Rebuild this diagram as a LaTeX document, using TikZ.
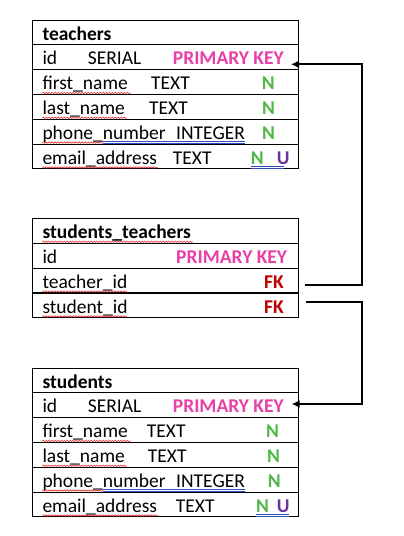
\documentclass[tikz,border=0pt]{standalone}
\usepackage{fontspec}
\setmainfont{Carlito}
\usetikzlibrary{arrows.meta,decorations.pathmorphing}
\definecolor{pk}{HTML}{E83FA8}
\definecolor{nn}{HTML}{50B848}
\definecolor{uu}{HTML}{7030A0}
\definecolor{fk}{HTML}{C00000}
\definecolor{spell}{HTML}{E03030}
\definecolor{gram}{HTML}{2F4FBF}
\tikzset{
  rowbox/.style={draw, line width=0.9pt, minimum width=265.6pt, minimum height=24.8pt, inner sep=0pt, outer sep=0pt, anchor=north west},
  txt/.style={anchor=base west, inner sep=0pt, font=\fontsize{19.5}{23}\selectfont},
  txtr/.style={txt, anchor=base east},
  hdr/.style={txt, font=\fontsize{19.5}{23}\selectfont\bfseries},
  pkey/.style={txtr, text=pk, font=\fontsize{19.5}{23}\selectfont\bfseries},
  nkey/.style={txt, text=nn, font=\fontsize{19.5}{23}\selectfont\bfseries},
  ukey/.style={txt, text=uu, font=\fontsize{19.5}{23}\selectfont\bfseries},
  fkey/.style={txtr, text=fk, font=\fontsize{19.5}{23}\selectfont\bfseries},
  conn/.style={line width=2pt, -{Latex[length=8pt,width=8pt]}},
  connplain/.style={line width=2pt},
  wavy/.style={spell, line width=0.6pt, decorate, decoration={snake, amplitude=0.7pt, segment length=3pt}},
  dbl/.style={gram, line width=0.6pt},
}
\begin{document}
\begin{tikzpicture}[x=1pt,y=-1pt]
\useasboundingbox (0,0) rectangle (404,536);
\fill[white] (0,0) rectangle (404,536);

% ---------- teachers ----------
\node[rowbox] (t0) at (32.7,20) {};
\node[rowbox] (t1) at (32.7,44.8) {};
\node[rowbox] (t2) at (32.7,69.6) {};
\node[rowbox] (t3) at (32.7,94.4) {};
\node[rowbox] (t4) at (32.7,119.2) {};
\node[rowbox] (t5) at (32.7,144) {};
\node[hdr] (t0a) at (42.3,40) {teachers};
\node[txt] (t1a) at (42.3,64.8) {id};
\node[txt] (t1b) at (87.7,64.8) {SERIAL};
\node[pkey] (t1c) at (284,64.8) {PRIMARY KEY};
\node[txt] (t2a) at (42.3,89.6) {first\_name};
\node[txt] (t2b) at (151,89.6) {TEXT};
\node[nkey] (t2c) at (261.7,89.6) {N};
\node[txt] (t3a) at (42.3,114.4) {last\_name};
\node[txt] (t3b) at (149,114.4) {TEXT};
\node[nkey] (t3c) at (262,114.4) {N};
\node[txt] (t4a) at (42.3,139.2) {phone\_number};
\node[txt] (t4b) at (176,139.2) {INTEGER};
\node[nkey] (t4c) at (262,139.2) {N};
\node[txt] (t5a) at (42.3,164) {email\_address};
\node[txt] (t5b) at (172.7,164) {TEXT};
\node[nkey] (t5c) at (250.7,164) {N};
\node[ukey] (t5d) at (276.7,164) {U};
\draw[wavy] (42.3,93) -- (130.7,93);
\draw[wavy] (42.3,117.8) -- (126.7,117.8);
\draw[wavy] (42.3,142.6) -- (103,142.6);
\draw[dbl] (103,141.6) -- (245,141.6) (103,143.6) -- (245,143.6);
\draw[wavy] (42.3,167.4) -- (158,167.4);
\draw[dbl] (250.7,166.4) -- (284,166.4) (250.7,168.4) -- (284,168.4);

% ---------- students_teachers ----------
\node[rowbox] (m0) at (32.7,218.3) {};
\node[rowbox] (m1) at (32.7,243.2) {};
\node[rowbox] (m2) at (32.7,268.1) {};
\node[rowbox] (m3) at (32.7,293) {};
\node[hdr] (m0a) at (42.3,238.3) {students\_teachers};
\node[txt] (m1a) at (42.3,263.2) {id};
\node[pkey] (m1b) at (287.3,263.2) {PRIMARY KEY};
\node[txt] (m2a) at (42.3,288.1) {teacher\_id};
\node[fkey] (m2b) at (284,288.1) {FK};
\node[txt] (m3a) at (42.3,313) {student\_id};
\node[fkey] (m3b) at (284,313) {FK};
\draw[wavy] (42.3,241.7) -- (192.7,241.7);
\draw[wavy] (42.3,291.5) -- (126.7,291.5);
\draw[wavy] (42.3,316.4) -- (126.7,316.4);

% ---------- students ----------
\node[rowbox] (s0) at (32.7,368) {};
\node[rowbox] (s1) at (32.7,392.8) {};
\node[rowbox] (s2) at (32.7,417.6) {};
\node[rowbox] (s3) at (32.7,442.4) {};
\node[rowbox] (s4) at (32.7,467.2) {};
\node[rowbox] (s5) at (32.7,492) {};
\node[hdr] (s0a) at (42.3,388) {students};
\node[txt] (s1a) at (42.3,412.8) {id};
\node[txt] (s1b) at (87.7,412.8) {SERIAL};
\node[pkey] (s1c) at (284,412.8) {PRIMARY KEY};
\node[txt] (s2a) at (42.3,437.6) {first\_name};
\node[txt] (s2b) at (146.7,437.6) {TEXT};
\node[nkey] (s2c) at (266,437.6) {N};
\node[txt] (s3a) at (42.3,462.4) {last\_name};
\node[txt] (s3b) at (147.7,462.4) {TEXT};
\node[nkey] (s3c) at (267,462.4) {N};
\node[txt] (s4a) at (42.3,487.2) {phone\_number};
\node[txt] (s4b) at (176,487.2) {INTEGER};
\node[nkey] (s4c) at (267.7,487.2) {N};
\node[txt] (s5a) at (42.3,512) {email\_address};
\node[txt] (s5b) at (175.7,512) {TEXT};
\node[nkey] (s5c) at (256,512) {N};
\node[ukey] (s5d) at (276.7,512) {U};
\draw[wavy] (42.3,441) -- (130.7,441);
\draw[wavy] (42.3,465.8) -- (126.7,465.8);
\draw[wavy] (42.3,490.6) -- (103,490.6);
\draw[dbl] (103,489.6) -- (245,489.6) (103,491.6) -- (245,491.6);
\draw[wavy] (42.3,515.4) -- (158,515.4);
\draw[dbl] (256,514.4) -- (289,514.4) (256,516.4) -- (289,516.4);

% ---------- connectors ----------
\coordinate (c1a) at (305,285);
\coordinate (c1k) at (362,64.3);
\coordinate (c1e) at (291,64.3);
\coordinate (c2a) at (306,301.7);
\coordinate (c2k) at (362,404);
\coordinate (c2e) at (291.7,404);
\draw[conn] (c1a) -| (c1k) -- (c1e);
\draw[conn] (c2a) -| (c2k) -- (c2e);
\end{tikzpicture}
\end{document}
